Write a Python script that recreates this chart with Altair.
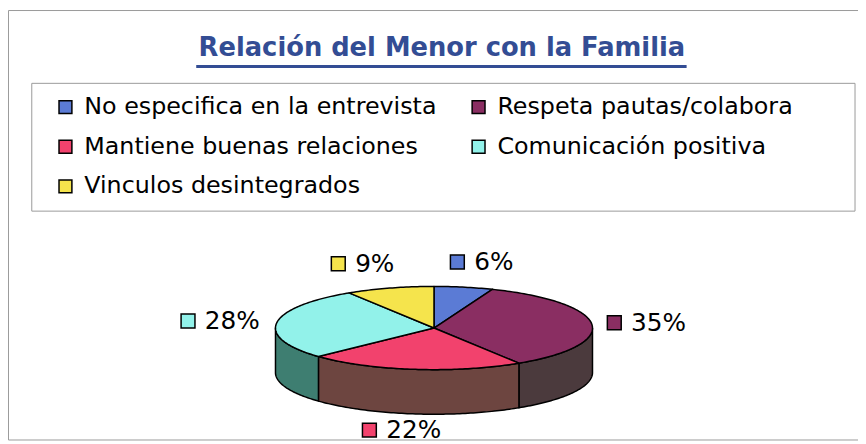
import altair as alt
import numpy as np
import pandas as pd

# ---- data ----
categories = [
    "No especifica en la entrevista",
    "Respeta pautas/colabora",
    "Mantiene buenas relaciones",
    "Comunicación positiva",
    "Vinculos desintegrados",
]
percentages = [6, 35, 22, 28, 9]
title_text = "Relación del Menor con la Familia"

# ---- styles ----
top_colors = ["#5b7bd5", "#8a2e62", "#f2426d", "#92f2ea", "#f5e44c"]
side_colors = ["#34457a", "#4b3a3d", "#6d4540", "#3e7e71", "#8a7f2a"]
title_color = "#334d94"
border_color = "#9a9a9a"

W, H = 858, 436
CX, CY, RX, RY, DEPTH = 430, 321, 160, 42, 45
LABEL_FS = 25

total = float(sum(percentages))
starts = np.concatenate([[0], np.cumsum(percentages)[:-1]]) / total * 360.0
ends = np.cumsum(percentages) / total * 360.0


def ell(t_deg, dy=0.0):
    t = np.radians(t_deg)
    return CX + RX * np.sin(t), CY - RY * np.cos(t) + dy


# top faces (built from the percentages)
top_rows = []
for i, cat in enumerate(categories):
    s, e = starts[i], ends[i]
    pts = [(CX, CY)]
    n = max(int(e - s), 2)
    for t in np.linspace(s, e, n + 1):
        pts.append(ell(t))
    pts.append((CX, CY))
    for k, (x, y) in enumerate(pts):
        top_rows.append({"cat": cat, "k": k, "x": x, "y": y})
top_df = pd.DataFrame(top_rows)

# side walls (front half only)
wall_rows = []
for i, cat in enumerate(categories):
    a, b = max(starts[i], 90.0), min(ends[i], 270.0)
    if a >= b:
        continue
    n = max(int(b - a), 2)
    ts = np.linspace(a, b, n + 1)
    pts = [ell(t) for t in ts] + [ell(t, DEPTH) for t in ts[::-1]]
    pts.append(pts[0])
    for k, (x, y) in enumerate(pts):
        wall_rows.append({"cat": cat, "k": k, "x": x, "y": y})
wall_df = pd.DataFrame(wall_rows)

# labels placed outside the pie along each slice's mid angle
lab_rows = []
for i, cat in enumerate(categories):
    mid = np.radians((starts[i] + ends[i]) / 2.0)
    r = 1.32 + 0.3 * abs(np.cos(mid))
    gx = CX + RX * r * np.sin(mid)
    gy = CY - RY * r * np.cos(mid) + (DEPTH if np.cos(mid) < 0 else 0)
    gy = min(gy, H - 12)
    txt = f"{percentages[i]}%"
    tw = LABEL_FS * (0.636 * (len(txt) - 1) + 0.95)
    gw = 14 + 10 + tw
    lab_rows.append({
        "cat": cat, "label": txt,
        "mx": gx - gw / 2 + 7, "tx": gx - gw / 2 + 24, "y": gy,
    })
lab_df = pd.DataFrame(lab_rows)

xs = alt.Scale(domain=[0, W], nice=False, zero=False)
ys = alt.Scale(domain=[0, H], nice=False, zero=False, reverse=True)

walls = alt.Chart(wall_df).mark_line(stroke="black", strokeWidth=1.5, strokeJoin="round").encode(
    x=alt.X("x:Q", scale=xs, axis=None),
    y=alt.Y("y:Q", scale=ys, axis=None),
    fill=alt.Fill("cat:N", scale=alt.Scale(domain=categories, range=side_colors), legend=None),
    detail="cat:N",
    order=alt.Order("k:Q"),
)

tops = alt.Chart(top_df).mark_line(stroke="black", strokeWidth=1.5, strokeJoin="round").encode(
    x=alt.X("x:Q", scale=xs, axis=None),
    y=alt.Y("y:Q", scale=ys, axis=None),
    fill=alt.Fill("cat:N", scale=alt.Scale(domain=categories, range=top_colors), legend=None),
    detail="cat:N",
    order=alt.Order("k:Q"),
)

markers = alt.Chart(lab_df).mark_square(size=196, stroke="black", strokeWidth=1.5, opacity=1).encode(
    x=alt.X("mx:Q", scale=xs, axis=None),
    y=alt.Y("y:Q", scale=ys, axis=None),
    fill=alt.Fill(
        "cat:N",
        scale=alt.Scale(domain=categories, range=top_colors),
        legend=alt.Legend(
            title=None, orient="none", legendX=46, legendY=86, columns=2,
            direction="horizontal",
            symbolType="square", symbolSize=169, symbolStrokeColor="black",
            symbolStrokeWidth=1.5, symbolOpacity=1, labelFont="DejaVu Sans",
            labelFontSize=24, labelColor="black", rowPadding=16, columnPadding=30,
            labelOffset=7, padding=0, labelLimit=0,
        ),
    ),
)

labels = alt.Chart(lab_df).mark_text(
    align="left", baseline="middle", font="DejaVu Sans", fontSize=LABEL_FS, color="black"
).encode(
    x=alt.X("tx:Q", scale=xs, axis=None),
    y=alt.Y("y:Q", scale=ys, axis=None),
    text="label:N",
)

title = alt.Chart(pd.DataFrame({"t": [title_text]})).mark_text(
    align="center", baseline="alphabetic", font="DejaVu Sans", fontWeight="bold",
    fontSize=26, color=title_color,
).encode(text="t:N", x=alt.value(438), y=alt.value(46))

underline = alt.Chart(pd.DataFrame({"t": [title_text]})).mark_rule(
    color=title_color, strokeWidth=3
).encode(x=alt.value(190), x2=alt.value(685), y=alt.value(57))

legend_box = alt.Chart(pd.DataFrame({"t": [0]})).mark_rect(
    filled=False, stroke=border_color, strokeWidth=1
).encode(x=alt.value(24), x2=alt.value(855), y=alt.value(74), y2=alt.value(203))

outer_box = alt.Chart(pd.DataFrame({"t": [0]})).mark_rect(
    filled=False, stroke=border_color, strokeWidth=1
).encode(x=alt.value(0.5), x2=alt.value(880), y=alt.value(0.5), y2=alt.value(434))

chart = (
    alt.layer(outer_box, legend_box, title, underline, walls, tops, markers, labels)
    .resolve_scale(fill="independent")
    .properties(width=W, height=H, padding=0, autosize=alt.AutoSizeParams(type="none"))
    .configure_view(stroke=None)
)

chart.save("out.html", embed_options={"renderer": "svg", "actions": False})
